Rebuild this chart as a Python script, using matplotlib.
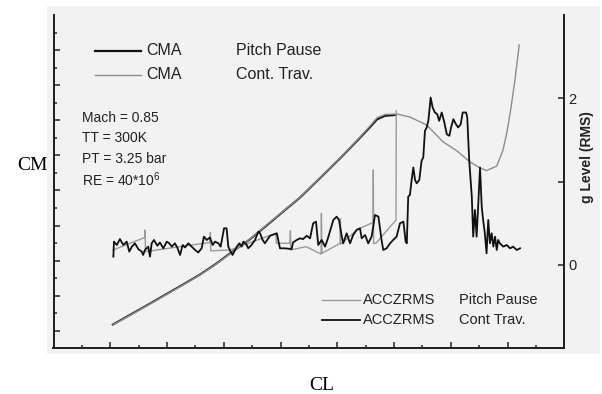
import matplotlib
matplotlib.use("Agg")
import matplotlib.pyplot as plt
from matplotlib.patches import Rectangle
from matplotlib.lines import Line2D
import numpy as np

plt.rcParams['font.family'] = ['Liberation Sans', 'DejaVu Sans']
plt.rcParams['mathtext.fontset'] = 'custom'
plt.rcParams['mathtext.rm'] = 'Liberation Sans'

# CMA vs CL, continuous traverse (gray)
cl_cma_cont = [0.009, 0.081, 0.140, 0.199, 0.256, 0.316, 0.373, 0.432, 0.492, 0.551,
               0.609, 0.669, 0.739, 0.810, 0.880, 0.915, 0.940, 0.968, 1.009, 1.056,
               1.115, 1.172, 1.222, 1.268, 1.303, 1.326, 1.362, 1.384, 1.398, 1.412,
               1.426, 1.441]
cm_cma_cont = [-0.267, -0.201, -0.147, -0.092, -0.039, 0.018, 0.080, 0.151, 0.223, 0.303,
               0.381, 0.462, 0.572, 0.685, 0.804, 0.867, 0.914, 0.933, 0.936, 0.918,
               0.873, 0.778, 0.725, 0.662, 0.628, 0.613, 0.639, 0.730, 0.833, 0.970,
               1.129, 1.329]

# CMA vs CL, pitch pause (black)
cl_cma_pp = [0.009, 0.081, 0.140, 0.199, 0.256, 0.316, 0.373, 0.432, 0.492, 0.551,
             0.609, 0.669, 0.739, 0.810, 0.880, 0.915, 0.940, 0.968, 1.005]
cm_cma_pp = [-0.265, -0.199, -0.145, -0.090, -0.037, 0.020, 0.082, 0.153, 0.221, 0.300,
             0.379, 0.460, 0.570, 0.683, 0.800, 0.860, 0.905, 0.925, 0.930]

# ACCZRMS, continuous traverse (black)
cl_acc_cont = [0.011, 0.013, 0.023, 0.034, 0.046, 0.058, 0.067, 0.076, 0.087, 0.099,
               0.111, 0.116, 0.122, 0.134, 0.140, 0.146, 0.154, 0.166, 0.175, 0.187,
               0.199, 0.208, 0.217, 0.228, 0.236, 0.246, 0.255, 0.263, 0.275, 0.287,
               0.299, 0.310, 0.322, 0.330, 0.340, 0.351, 0.361, 0.369, 0.381, 0.389,
               0.401, 0.410, 0.416, 0.424, 0.431, 0.440, 0.446, 0.455, 0.463, 0.469,
               0.481, 0.486, 0.498, 0.510, 0.522, 0.528, 0.537, 0.545, 0.563, 0.587,
               0.598, 0.616, 0.639, 0.644, 0.657, 0.669, 0.679, 0.692, 0.704, 0.715,
               0.725, 0.733, 0.745, 0.757, 0.767, 0.786, 0.798, 0.806, 0.816, 0.821,
               0.833, 0.845, 0.856, 0.868, 0.880, 0.886, 0.898, 0.909, 0.921, 0.933,
               0.945, 0.956, 0.962, 0.974, 0.986, 0.997, 1.009, 1.021, 1.033, 1.041,
               1.045, 1.050, 1.056, 1.062, 1.068, 1.074, 1.080, 1.089, 1.097, 1.103,
               1.109, 1.115, 1.121, 1.129, 1.136, 1.144, 1.152, 1.159, 1.168, 1.176,
               1.186, 1.195, 1.201, 1.209, 1.218, 1.226, 1.235, 1.242, 1.254, 1.258,
               1.265, 1.274, 1.279, 1.285, 1.291, 1.297, 1.303, 1.309, 1.314, 1.320,
               1.326, 1.332, 1.338, 1.344, 1.350, 1.356, 1.362, 1.367, 1.373, 1.385,
               1.397, 1.409, 1.420, 1.432, 1.444]
g_acc_cont = [0.10, 0.28, 0.24, 0.31, 0.24, 0.28, 0.16, 0.22, 0.26, 0.19,
              0.16, 0.12, 0.18, 0.22, 0.10, 0.26, 0.30, 0.23, 0.27, 0.20,
              0.28, 0.26, 0.22, 0.26, 0.21, 0.12, 0.24, 0.21, 0.26, 0.22,
              0.18, 0.15, 0.20, 0.34, 0.30, 0.33, 0.24, 0.28, 0.26, 0.22,
              0.44, 0.44, 0.22, 0.16, 0.12, 0.18, 0.22, 0.26, 0.22, 0.28,
              0.24, 0.20, 0.24, 0.30, 0.40, 0.38, 0.30, 0.26, 0.35, 0.38,
              0.20, 0.20, 0.19, 0.27, 0.30, 0.32, 0.31, 0.35, 0.32, 0.50,
              0.52, 0.24, 0.30, 0.22, 0.32, 0.54, 0.58, 0.54, 0.34, 0.26,
              0.38, 0.26, 0.36, 0.42, 0.44, 0.32, 0.36, 0.26, 0.34, 0.60,
              0.58, 0.30, 0.18, 0.20, 0.26, 0.30, 0.34, 0.50, 0.52, 0.28,
              0.26, 0.82, 0.84, 1.02, 1.17, 1.02, 0.98, 1.02, 1.25, 1.29,
              1.61, 1.65, 1.73, 2.01, 1.89, 1.83, 1.81, 1.73, 1.83, 1.73,
              1.57, 1.55, 1.65, 1.75, 1.69, 1.65, 1.69, 1.83, 1.83, 1.77,
              1.25, 0.82, 0.34, 0.66, 0.34, 0.74, 1.17, 0.70, 0.54, 0.38,
              0.14, 0.54, 0.26, 0.38, 0.22, 0.34, 0.18, 0.30, 0.26, 0.22,
              0.24, 0.20, 0.22, 0.18, 0.20]

# ACCZRMS, pitch pause (gray)
cl_acc_pp = [0.010, 0.122, 0.123, 0.124, 0.246, 0.351, 0.353, 0.354, 0.422, 0.584,
             0.585, 0.633, 0.635, 0.636, 0.690, 0.743, 0.744, 0.746, 0.810, 0.811,
             0.812, 0.873, 0.926, 0.927, 0.928, 0.936, 1.007, 1.008]
g_acc_pp = [0.18, 0.33, 0.42, 0.16, 0.22, 0.27, 0.39, 0.17, 0.18, 0.38,
            0.26, 0.26, 0.41, 0.18, 0.22, 0.13, 0.62, 0.14, 0.26, 0.56,
            0.25, 0.43, 0.51, 1.14, 0.26, 0.26, 0.54, 1.85]

W, H = 602, 394
fig = plt.figure(figsize=(W / 100, H / 100), dpi=100)
fig.patch.set_facecolor('white')
# scanned page background
fig.add_artist(Rectangle((47 / W, 1 - 354 / H), 553 / W, 348 / H,
                         transform=fig.transFigure, facecolor='#f2f2f2',
                         edgecolor='none', zorder=-5))

ax = fig.add_axes([53.5 / W, 1 - 348.3 / H, 510.8 / W, 333.3 / H])
ax.patch.set_alpha(0)
ax2 = ax.twinx()
ax2.patch.set_alpha(0)

ax.plot(cl_cma_pp, cm_cma_pp, color='#1a1a1a', lw=1.5, zorder=2)
ax.plot(cl_cma_cont, cm_cma_cont, color='#8c8c8c', lw=1.0, zorder=3)
ax2.plot(cl_acc_pp, g_acc_pp, color='#9a9a9a', lw=1.0)
ax2.plot(cl_acc_cont, g_acc_cont, color='#111111', lw=1.3)

ax.set_xlim(-0.2, 1.6)
ax.set_ylim(-0.4, 1.5)
ax2.set_ylim(-1, 3)

ax.set_xticks(np.arange(0, 1.41, 0.2))
ax.set_xticks(np.arange(-0.1, 1.51, 0.2), minor=True)
ax.set_yticks(np.arange(-0.3, 1.31, 0.2))
ax.set_yticks(np.arange(-0.2, 1.41, 0.2), minor=True)
ax.tick_params(which='major', direction='in', length=4.6, width=1.1, color='#222222',
               labelleft=False, labelbottom=False)
ax.tick_params(which='minor', direction='in', length=2.3, width=1.1, color='#222222')

ax2.set_yticks([0, 1, 2])
ax2.set_yticklabels(['0', '', '2'])
ax2.tick_params(direction='in', length=4.6, width=1.1, color='#222222', pad=3,
                labelsize=10.5, labelcolor='#222222')

for a in (ax, ax2):
    a.spines['top'].set_visible(False)
    for s in ('left', 'bottom', 'right'):
        a.spines[s].set_linewidth(1.3)
        a.spines[s].set_color('#222222')

# legends drawn as in the original figure
tr = ax.transAxes
ax.add_line(Line2D([0.081, 0.171], [0.893, 0.893], transform=tr, color='#111111', lw=1.6))
ax.add_line(Line2D([0.081, 0.171], [0.820, 0.820], transform=tr, color='#8c8c8c', lw=1.0))
ax.text(0.181, 0.893, 'CMA', transform=tr, fontsize=11.5, va='center', color='#222222')
ax.text(0.181, 0.820, 'CMA', transform=tr, fontsize=11.5, va='center', color='#222222')
ax.text(0.357, 0.893, 'Pitch Pause', transform=tr, fontsize=11.5, va='center', color='#222222')
ax.text(0.357, 0.820, 'Cont. Trav.', transform=tr, fontsize=11.5, va='center', color='#222222')

info = ['Mach = 0.85', 'TT = 300K', 'PT = 3.25 bar', 'RE = 40*10$^{6}$']
for txt, yy in zip(info, [0.692, 0.630, 0.568, 0.505]):
    ax.text(0.055, yy, txt, transform=tr, fontsize=10, va='center', color='#222222')

ax.add_line(Line2D([0.525, 0.600], [0.145, 0.145], transform=tr, color='#9a9a9a', lw=1.0))
ax.add_line(Line2D([0.525, 0.600], [0.085, 0.085], transform=tr, color='#111111', lw=1.3))
ax.text(0.606, 0.145, 'ACCZRMS', transform=tr, fontsize=10.5, va='center', color='#222222')
ax.text(0.606, 0.085, 'ACCZRMS', transform=tr, fontsize=10.5, va='center', color='#222222')
ax.text(0.794, 0.145, 'Pitch Pause', transform=tr, fontsize=10.5, va='center', color='#222222')
ax.text(0.794, 0.085, 'Cont Trav.', transform=tr, fontsize=10.5, va='center', color='#222222')

fig.text(587 / W, 1 - 157 / H, 'g Level (RMS)', rotation=90, fontsize=10,
         fontweight='bold', ha='center', va='center', color='#222222')
fig.text(33 / W, 1 - 165 / H, 'CM', fontsize=14, ha='center', va='center',
         family='Liberation Serif')
fig.text(322 / W, 1 - 385 / H, 'CL', fontsize=14, ha='center', va='center',
         family='Liberation Serif')

fig.savefig('out.png', dpi=100)
